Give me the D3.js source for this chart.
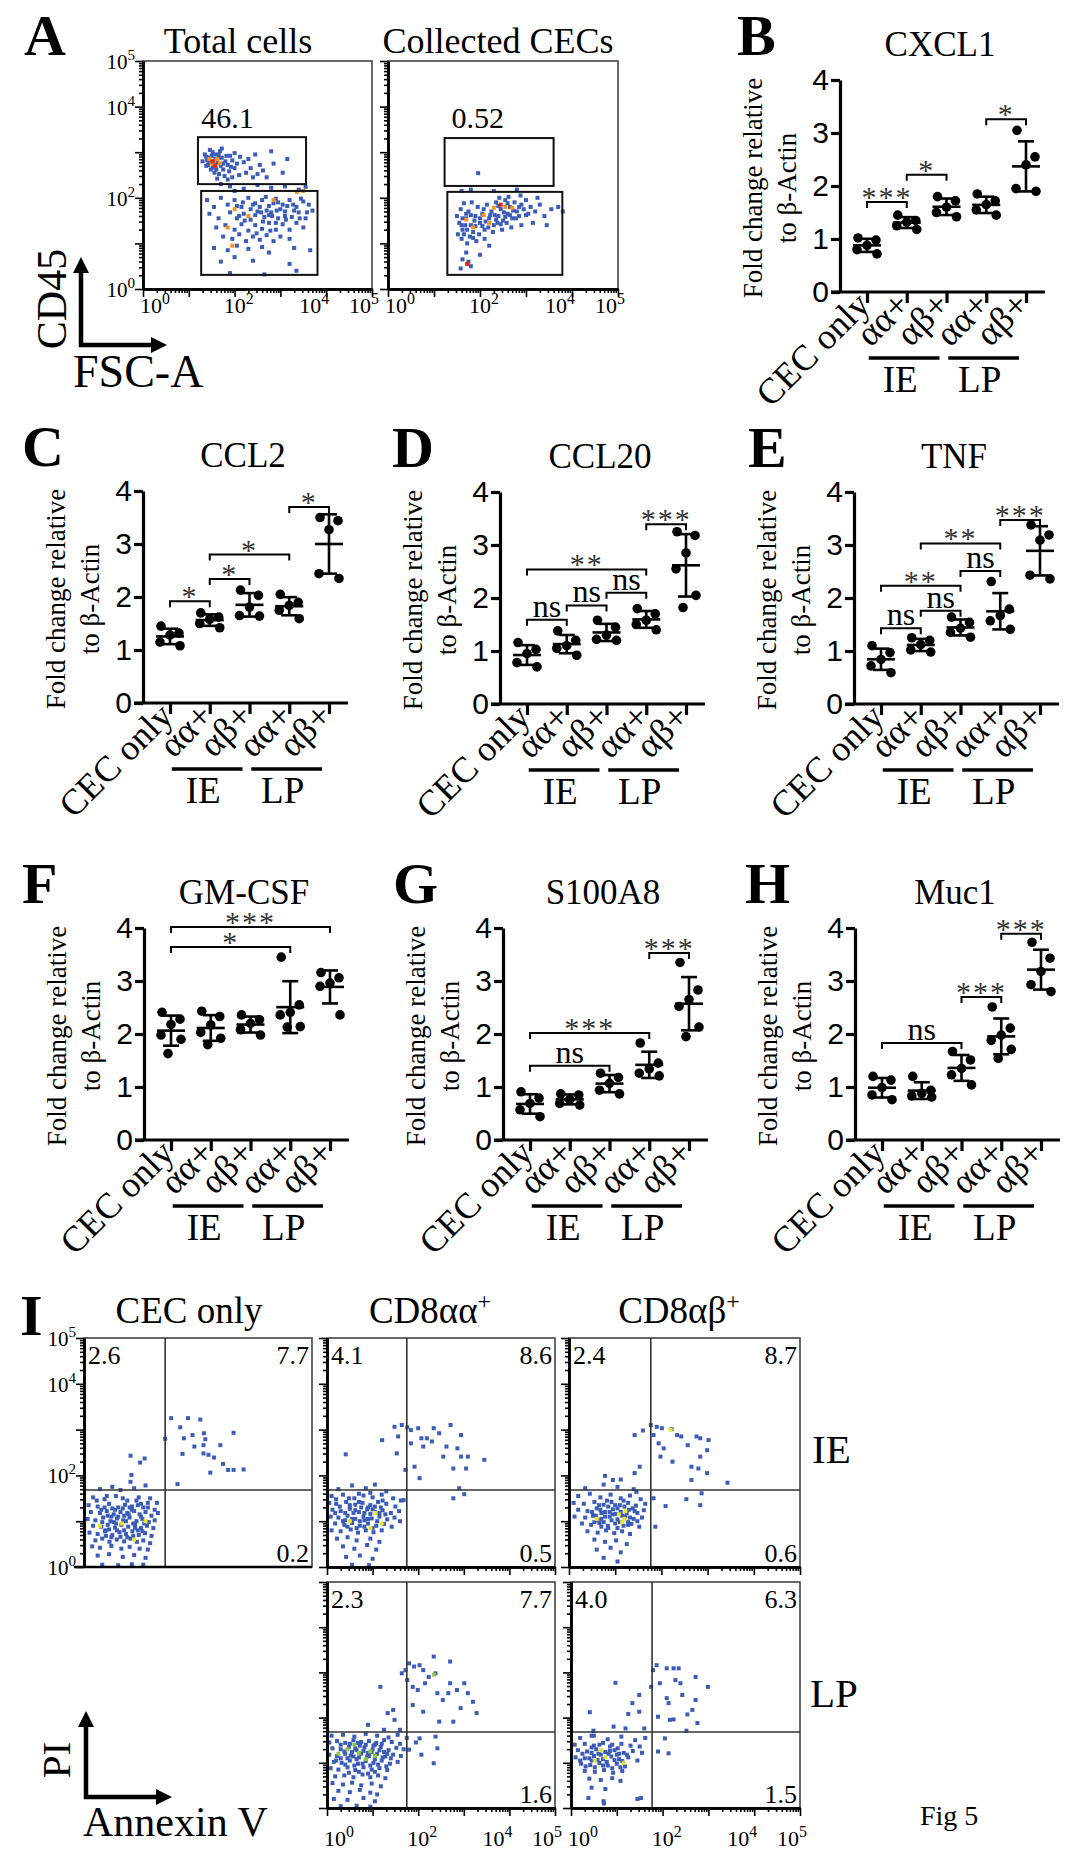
<!DOCTYPE html>
<html>
<head>
<meta charset="utf-8">
<script src="https://cdn.jsdelivr.net/npm/d3@7"></script>
<style>
  body { margin: 0; background: #fff; }
  svg { display: block; }
</style>
</head>
<body>
<svg id="fig" width="1080" height="1862"></svg>
<script>
// ---- data for the dot plots (fold change relative to beta-actin) ----
var categories = ["CEC only", "αα+", "αβ+", "αα+", "αβ+"];
var groups = [{ name: "IE", from: 1, to: 2 }, { name: "LP", from: 3, to: 4 }];
var yTicks = [0, 1, 2, 3, 4];

var cxcl1 = [[1.02, 0.98, 0.88, 0.80, 0.72], [1.45, 1.35, 1.32, 1.25, 1.18], [1.80, 1.72, 1.60, 1.50, 1.42], [1.85, 1.72, 1.65, 1.55, 1.45], [3.05, 2.55, 2.40, 1.95, 1.90]];
var ccl2 = [[1.45, 1.32, 1.28, 1.15, 1.08], [1.70, 1.62, 1.58, 1.50, 1.42], [2.13, 2.03, 1.81, 1.65, 1.64], [2.05, 1.90, 1.84, 1.75, 1.59], [3.50, 3.44, 3.27, 2.44, 2.35]];
var ccl20 = [[1.16, 1.03, 0.95, 0.78, 0.70], [1.38, 1.20, 1.10, 1.05, 0.92], [1.58, 1.45, 1.30, 1.22, 1.20], [1.80, 1.70, 1.58, 1.50, 1.40], [3.25, 3.18, 2.85, 2.55, 2.05, 1.82]];
var tnf = [[1.10, 0.97, 0.84, 0.72, 0.59], [1.25, 1.20, 1.12, 1.02, 0.98], [1.64, 1.54, 1.43, 1.35, 1.26], [2.31, 1.79, 1.67, 1.57, 1.41], [3.38, 3.19, 3.09, 2.43, 2.36]];
var gmcsf = [[2.41, 2.28, 2.18, 1.98, 1.90, 1.63], [2.43, 2.33, 2.17, 2.03, 1.92, 1.80], [2.36, 2.27, 2.20, 2.08, 1.98], [3.45, 2.55, 2.41, 2.36, 2.14, 2.13], [3.16, 3.06, 2.96, 2.90, 2.36]];
var s100a8 = [[0.91, 0.79, 0.69, 0.57, 0.44], [0.87, 0.85, 0.76, 0.69, 0.66], [1.26, 1.18, 1.07, 0.94, 0.87], [1.83, 1.45, 1.34, 1.26, 1.21], [3.35, 2.83, 2.65, 2.52, 2.13, 1.95]];
var muc1 = [[1.20, 1.13, 0.99, 0.85, 0.76], [1.20, 0.94, 0.88, 0.83, 0.81], [1.67, 1.51, 1.35, 1.23, 1.04], [2.51, 2.11, 1.98, 1.88, 1.71, 1.54], [3.73, 3.43, 3.18, 2.93, 2.80]];

// significance brackets: [from category, to category, level, label]
var sigB = [[0, 1, 1.70, "***"], [1, 2, 2.21, "*"], [3, 4, 3.26, "*"]];
var sigC = [[0, 1, 1.92, "*"], [1, 2, 2.34, "*"], [1, 3, 2.80, "*"], [3, 4, 3.70, "*"]];
var sigD = [[0, 1, 1.59, "ns"], [1, 2, 1.86, "ns"], [2, 3, 2.10, "ns"], [0, 3, 2.54, "**"], [3, 4, 3.39, "***"]];
var sigE = [[0, 1, 1.43, "ns"], [1, 2, 1.76, "ns"], [0, 2, 2.23, "**"], [2, 3, 2.51, "ns"], [1, 3, 3.03, "**"], [3, 4, 3.47, "***"]];
var sigF = [[0, 4, 4.02, "***"], [0, 3, 3.64, "*"]];
var sigG = [[3, 4, 3.53, "***"], [0, 3, 2.02, "***"], [0, 2, 1.40, "ns"]];
var sigH = [[3, 4, 3.89, "***"], [2, 3, 2.70, "***"], [0, 2, 1.83, "ns"]];

// ---- flow cytometry events, in log10 units [x, y] ----
var logLabels = [0, 2, 4, 5];

var totalCells = [[1.35,2.95],[1.42,2.88],[1.50,2.92],[1.58,2.85],[1.65,2.95],[1.72,2.88],[1.80,2.80],[1.45,2.78],[1.55,2.72],[1.62,2.78],[1.70,2.70],[1.38,2.70],[1.48,2.62],[1.60,2.62],[1.75,2.62],[1.85,2.72],[1.90,2.92],[1.95,2.82],[2.05,2.75],[2.00,2.65],[1.52,3.00],[1.68,3.02],[1.40,2.82],[1.88,2.58],[1.30,2.80],[1.56,2.55],[1.66,2.52],[1.78,2.48],[2.12,2.90],[2.20,2.78],[2.30,2.85],[2.35,2.65],[2.45,2.95],[2.55,2.72],[2.62,2.60],[2.80,3.02],[2.85,2.75],[3.15,2.85],[2.25,2.55],[2.10,2.50],[1.95,2.45],[2.40,2.45],[2.70,2.45],[3.05,2.55],[1.62,2.42],[1.85,2.40],[1.72,3.08],[1.46,3.05],[2.50,2.52],[2.00,2.98],
  [1.42,2.72],[1.58,2.95],[1.75,2.75],[1.52,2.66],[1.66,2.88],[1.82,2.92],[1.92,2.68],[1.38,2.90],
  [1.90,2.25],[2.20,2.20],[2.50,2.28],[2.80,2.22],[3.10,2.25],[3.40,2.18],[2.00,2.15],[1.70,2.30],[3.55,2.24],
  [1.40,1.95],[1.55,1.80],[1.70,2.00],[1.85,1.85],[2.00,1.95],[2.15,1.80],[2.30,2.00],[2.45,1.88],[2.60,1.95],[2.75,1.82],[2.90,1.98],[3.05,1.85],[3.20,1.95],[3.35,1.80],[3.50,1.92],[3.62,1.85],
  [1.45,1.65],[1.65,1.55],[1.90,1.68],[2.05,1.55],[2.20,1.65],[2.35,1.52],[2.50,1.70],[2.65,1.58],[2.80,1.68],[2.95,1.55],[3.10,1.70],[3.25,1.58],[3.40,1.68],[3.55,1.55],[3.70,1.72],
  [1.60,1.35],[1.80,1.40],[2.00,1.30],[2.15,1.42],[2.30,1.28],[2.45,1.40],[2.60,1.32],[2.75,1.45],[2.90,1.30],[3.05,1.42],[3.20,1.30],[3.35,1.45],[3.50,1.35],
  [1.75,1.15],[1.95,1.10],[2.10,1.20],[2.25,1.05],[2.40,1.15],[2.55,1.08],[2.70,1.18],[2.85,1.05],[3.00,1.15],[3.20,1.10],
  [1.55,0.90],[1.85,0.85],[2.05,0.95],[2.30,0.88],[2.60,0.92],[2.75,0.80],[3.30,0.90],[3.65,0.85],
  [1.70,0.60],[2.00,0.70],[2.40,0.62],[3.20,0.55],[1.90,0.35],[2.65,0.32],[3.35,0.40],
  [2.35,1.75],[2.55,1.80],[2.70,1.72],[2.85,1.88],[3.00,1.75],[3.15,1.82],[2.45,1.62],[2.62,1.48],[2.82,1.60],[3.30,1.72],[2.18,1.90],[3.45,1.98],[2.90,1.45],[2.10,1.60],
  [2.40,1.85],[2.58,1.68],[2.75,1.62],[2.92,1.72],[3.10,1.60],[3.28,1.85],[2.22,1.50],[2.48,1.22],[2.78,1.28],[3.12,1.52],[3.42,1.55],[2.05,1.82],[2.68,2.02],[2.95,1.90],[3.58,1.68]];
var totalCellsOrange = [[1.55,2.80],[1.62,2.85],[1.50,2.75],[1.68,2.76],[1.45,2.85],[3.36,2.13],[3.50,2.15],[2.00,1.75],[1.85,1.35],[2.30,1.60],[1.95,0.95],[2.85,1.95]];
var totalCellsRed = [[1.58,2.70],[1.52,2.80]];

var collectedCECs = [[1.50,1.60],[1.55,1.45],[1.62,1.30],[1.70,1.55],[1.75,1.70],[1.80,1.40],[1.85,1.25],[1.90,1.60],[1.95,1.80],[2.00,1.45],[2.05,1.65],[2.10,1.30],[2.15,1.85],[2.20,1.55],[2.25,1.70],[2.30,1.40],[2.35,1.90],[2.40,1.60],[2.45,1.75],[2.50,1.50],[2.55,1.95],[2.60,1.65],[2.65,1.80],[2.70,1.55],[2.75,1.90],[2.80,1.70],[2.85,1.60],[2.90,1.85],[2.95,1.75],[3.00,1.95],[3.05,1.65],[3.10,1.80],[3.20,1.70],[3.30,1.85],[3.40,1.60],[3.55,1.75],[3.70,1.80],[3.80,1.70],
  [1.52,1.20],[1.60,1.10],[1.68,1.40],[1.78,1.15],[1.88,1.50],[1.98,1.20],[2.08,1.75],[2.18,1.35],[2.28,1.25],[2.38,1.45],[2.48,1.30],[2.58,1.45],[2.68,1.35],[2.90,1.40],[3.15,1.45],[3.45,1.40],
  [1.58,1.75],[1.65,1.88],[1.72,1.00],[1.82,1.90],[2.42,2.00],[2.62,2.02],[2.88,2.05],[3.25,2.00],[1.70,0.80],[1.62,0.65],[1.75,0.60],[1.58,0.45],[1.80,0.50],[2.00,0.75],[2.20,0.95],[2.10,1.10],[1.92,1.05],[1.62,1.55],[2.32,1.62],[2.52,1.68],[2.72,1.72],
  [1.60,1.40],[1.72,1.30],[1.80,1.62],[1.90,1.38],[2.00,1.55],[2.12,1.48],[2.22,1.62],[2.35,1.52],[2.45,1.42],[2.55,1.58],[2.65,1.62],[2.78,1.55],[1.65,1.20],[1.85,1.12],[2.05,1.38],[1.70,1.65],[2.40,1.82],[2.60,1.88],[2.85,1.80],[3.00,1.62],
  [1.96,2.54],[1.60,2.15],[1.80,2.18],[2.30,2.15],[2.80,2.18]];
var collectedOrange = [[1.70,1.52],[1.85,1.35],[2.08,1.62],[2.30,1.78],[2.55,1.80],[2.70,1.78],[2.20,1.45]];
var collectedRed = [[1.72,0.55],[2.45,1.85]];

var cecOnlyIE = [[1.91,3.25],[2.28,3.25],[2.55,3.22],[1.78,2.80],[2.11,3.05],[2.19,2.81],[2.38,2.88],[2.63,2.92],[2.66,2.79],[3.28,2.93],[2.16,2.47],[2.42,2.63],[2.62,2.66],[2.62,2.48],[2.73,2.45],[2.85,2.39],[2.99,2.66],[3.05,2.25],[3.16,2.12],[3.28,2.12],[3.50,2.13],[2.77,2.06],[2.05,1.81],[1.02,2.43],[1.04,2.01],[1.02,1.86],[1.23,2.28],[1.33,2.37],
  [0.35,1.70],[0.62,1.75],[0.80,1.68],[1.10,1.72],[1.35,1.78],
  [0.20,1.52],[0.45,1.48],[0.70,1.55],[0.95,1.45],[1.20,1.52],[1.45,1.50],[1.60,1.40],
  [0.10,1.35],[0.30,1.32],[0.55,1.38],[0.75,1.30],[0.90,1.36],[1.05,1.32],[1.25,1.38],[1.40,1.30],[1.55,1.25],
  [0.15,1.20],[0.35,1.18],[0.50,1.22],[0.65,1.15],[0.80,1.20],[0.95,1.18],[1.10,1.22],[1.22,1.15],[1.35,1.20],[1.48,1.12],[1.62,1.18],
  [0.08,1.05],[0.25,1.02],[0.42,1.08],[0.58,1.00],[0.72,1.06],[0.86,1.02],[1.00,1.08],[1.15,1.00],[1.28,1.05],[1.42,0.98],[1.55,1.02],
  [0.20,0.90],[0.38,0.88],[0.52,0.92],[0.68,0.86],[0.82,0.92],[0.97,0.88],[1.12,0.92],[1.25,0.85],[1.38,0.90],[1.52,0.85],
  [0.12,0.75],[0.30,0.72],[0.46,0.78],[0.62,0.70],[0.78,0.76],[0.92,0.72],[1.06,0.78],[1.20,0.70],[1.34,0.74],[1.48,0.68],
  [0.25,0.58],[0.40,0.62],[0.56,0.55],[0.72,0.60],[0.88,0.56],[1.02,0.62],[1.16,0.55],[1.30,0.58],[1.45,0.52],
  [0.18,0.45],[0.35,0.42],[0.60,0.46],[0.82,0.40],[1.00,0.44],[1.22,0.40],[1.40,0.38],
  [0.30,0.25],[0.55,0.28],[0.85,0.22],[1.10,0.26],[1.35,0.20],[0.40,0.05],[0.75,0.04],[1.05,0.06],[1.30,0.05],
  [0.60,1.10],[0.88,1.12],[1.18,0.80],[0.48,0.80],[0.70,0.95],[1.05,1.25],[0.38,1.25],[1.30,1.30],[0.95,0.65],[0.62,1.28],
  [0.45,1.30],[0.68,1.25],[0.85,1.28],[1.00,1.30],[1.18,1.35],[0.52,1.12],[0.75,1.10],[0.98,1.15],[1.25,1.10],[0.40,0.98],[0.65,0.98],[0.92,1.00],[1.08,0.95],[1.32,0.95],[0.55,0.82],[0.72,0.80],[0.88,0.80],[1.12,0.85],[1.28,0.78],[0.60,0.65],[0.80,0.66],[1.08,0.68],[0.48,0.68],[1.40,1.40],[0.28,1.45],[0.85,1.50],[1.15,1.45],[0.50,1.55]];
var cecOnlyIEYellow = [[0.83,0.95],[1.10,0.60],[0.35,0.90],[1.35,1.00]];

var aaIE = [[1.48,3.06],[1.56,2.85],[1.64,3.10],[1.76,3.05],[1.84,2.99],[2.00,3.03],[2.07,2.81],[2.34,3.03],[2.46,2.92],[2.71,3.10],[2.94,2.88],[2.19,2.81],[2.30,2.74],[2.62,2.63],[2.86,2.59],[2.94,2.41],[3.09,2.41],[3.45,2.34],[2.55,2.41],[2.77,2.15],[3.05,2.15],[1.72,2.12],[2.03,1.94],[1.21,2.77],[1.53,2.48],[1.84,2.70],[0.41,2.46],[2.90,1.72],[3.01,1.59],[2.77,1.50],[2.11,2.63],[1.92,2.19],
  [0.25,1.70],[0.55,1.78],[0.85,1.72],[1.05,1.80],[1.30,1.65],
  [0.10,1.55],[0.35,1.58],[0.60,1.50],[0.80,1.56],[1.00,1.52],[1.20,1.58],[1.45,1.50],[1.62,1.45],
  [0.05,1.40],[0.20,1.38],[0.42,1.42],[0.62,1.36],[0.78,1.40],[0.95,1.35],[1.12,1.42],[1.30,1.38],[1.50,1.32],
  [0.12,1.25],[0.30,1.22],[0.50,1.27],[0.70,1.20],[0.88,1.26],[1.05,1.20],[1.22,1.24],[1.40,1.18],[1.58,1.22],
  [0.08,1.10],[0.25,1.08],[0.45,1.12],[0.62,1.05],[0.80,1.10],[0.98,1.06],[1.15,1.10],[1.32,1.04],[1.48,1.08],
  [0.18,0.95],[0.38,0.92],[0.55,0.96],[0.72,0.90],[0.90,0.95],[1.08,0.90],[1.25,0.94],[1.42,0.88],
  [0.10,0.80],[0.30,0.78],[0.52,0.82],[0.68,0.75],[0.85,0.80],[1.02,0.76],[1.20,0.80],
  [0.22,0.62],[0.45,0.65],[0.65,0.58],[0.95,0.62],[1.15,0.55],[0.35,0.45],[0.60,0.40],[0.88,0.48],[1.08,0.38],
  [0.42,0.22],[0.72,0.25],[1.00,0.18],[0.55,0.05],[0.92,0.04],
  [0.58,1.18],[0.75,1.30],[0.95,1.16],[0.40,1.02],[1.18,1.30],[0.82,1.02],[1.60,1.00],[1.68,1.46],
  [0.28,1.32],[0.50,1.35],[0.70,1.42],[0.90,1.30],[1.05,1.32],[1.22,1.45],[0.18,1.18],[0.40,1.18],[0.62,1.24],[0.82,1.18],[1.00,1.26],[1.15,1.18],[0.35,1.00],[0.55,1.05],[0.72,1.00],[0.90,1.05],[1.10,1.00],[1.28,1.15],[0.45,0.88],[0.65,0.85],[0.82,0.88],[1.00,0.85],[0.20,1.48],[0.48,1.50],[0.70,1.60],[0.95,1.62]];
var aaIEYellow = [[1.05,1.18],[0.50,1.00],[1.20,0.95],[0.95,0.85]];

var abIE = [[1.42,2.88],[1.60,2.98],[1.77,3.10],[1.90,3.06],[2.01,3.03],[1.83,2.88],[1.94,2.70],[2.05,2.59],[2.22,3.01],[2.34,2.88],[2.43,2.85],[2.57,2.66],[2.76,2.85],[2.84,2.81],[3.02,2.77],[2.99,2.55],[2.84,2.41],[2.65,2.19],[2.80,2.15],[2.99,2.05],[3.43,1.84],[2.65,1.90],[2.87,1.61],[2.54,1.48],[2.84,1.35],[2.09,1.33],[1.83,1.50],[1.98,2.41],[2.24,2.30],[1.53,2.19],[1.42,2.05],[0.78,1.99],[1.12,1.91],[1.46,1.64],[1.87,0.88],
  [0.35,1.72],[0.75,1.80],[1.05,1.75],[1.40,1.70],[0.95,1.90],
  [0.20,1.55],[0.45,1.60],[0.68,1.52],[0.90,1.58],[1.12,1.50],[1.32,1.56],[1.55,1.48],
  [0.10,1.40],[0.32,1.38],[0.55,1.42],[0.75,1.36],[0.92,1.42],[1.10,1.35],[1.28,1.40],[1.45,1.34],[1.65,1.38],
  [0.20,1.25],[0.40,1.22],[0.60,1.28],[0.78,1.20],[0.95,1.26],[1.12,1.20],[1.30,1.25],[1.48,1.18],[1.62,1.24],
  [0.12,1.10],[0.35,1.08],[0.52,1.12],[0.70,1.05],[0.88,1.10],[1.05,1.04],[1.22,1.10],[1.40,1.05],[1.58,1.08],
  [0.28,0.95],[0.48,0.92],[0.66,0.96],[0.84,0.90],[1.00,0.95],[1.18,0.90],[1.35,0.94],[1.52,0.88],
  [0.40,0.78],[0.62,0.75],[0.80,0.80],[0.98,0.74],[1.15,0.78],[1.32,0.72],
  [0.55,0.60],[0.78,0.55],[1.02,0.58],[1.25,0.50],[0.60,0.38],[0.90,0.42],[1.12,0.32],[0.75,0.20],[1.05,0.12],
  [0.70,1.18],[0.85,1.32],[1.02,1.16],[1.20,1.32],[0.62,1.02],[1.28,0.98],
  [0.65,1.35],[0.82,1.45],[1.00,1.35],[1.18,1.45],[1.38,1.28],[0.50,1.20],[0.68,1.25],[0.88,1.20],[1.05,1.28],[1.25,1.18],[1.42,1.22],[0.58,1.12],[0.78,1.10],[0.95,1.15],[1.15,1.12],[1.32,1.08],[0.55,0.98],[0.75,0.98],[0.92,1.02],[1.10,0.98],[1.28,0.92],[1.48,1.00],[0.85,0.85],[1.05,0.85],[0.70,0.88]];
var abIEYellow = [[1.08,1.15],[1.22,1.22],[0.60,1.05],[1.15,0.98],[1.20,1.05],[2.20,3.00]];

var aaLP = [[1.72,3.05],[1.80,3.20],[1.91,3.13],[2.03,3.16],[2.11,3.05],[2.34,3.35],[2.38,2.98],[2.70,3.24],[1.64,2.98],[1.76,2.83],[1.88,2.68],[1.99,2.61],[2.15,2.76],[2.23,2.90],[2.42,2.54],[2.54,2.39],[2.66,2.54],[2.70,2.76],[2.85,2.61],[3.01,2.76],[3.09,2.54],[3.20,2.35],[3.28,2.10],[2.93,2.21],[2.77,1.91],[2.46,1.91],[2.11,2.13],[1.88,2.28],[1.45,2.17],[1.33,2.10],[1.17,2.68],[1.48,1.95],[0.90,1.84],[1.25,1.73],[1.60,1.73],[2.03,1.54],[2.38,1.58],[2.42,1.32],[2.07,1.18],[2.34,0.99],[1.80,1.29],[1.95,1.45],[1.75,1.55],
  [0.10,1.60],[0.35,1.62],[0.60,1.58],[0.85,1.64],[1.10,1.60],[1.35,1.56],[1.55,1.62],
  [0.05,1.45],[0.22,1.48],[0.40,1.44],[0.58,1.50],[0.75,1.46],[0.92,1.48],[1.08,1.44],[1.25,1.50],[1.42,1.46],[1.60,1.42],
  [0.12,1.32],[0.30,1.30],[0.48,1.35],[0.65,1.28],[0.82,1.34],[1.00,1.30],[1.18,1.35],[1.35,1.28],[1.52,1.33],[1.68,1.30],
  [0.05,1.18],[0.22,1.15],[0.40,1.20],[0.58,1.14],[0.75,1.20],[0.92,1.15],[1.10,1.20],[1.28,1.14],[1.45,1.18],[1.62,1.15],
  [0.15,1.02],[0.32,1.00],[0.50,1.05],[0.68,0.98],[0.85,1.04],[1.02,1.00],[1.20,1.05],[1.38,0.98],[1.55,1.02],
  [0.08,0.88],[0.25,0.85],[0.45,0.90],[0.62,0.84],[0.80,0.90],[0.98,0.85],[1.15,0.88],[1.32,0.84],
  [0.18,0.70],[0.38,0.72],[0.58,0.68],[0.78,0.74],[0.95,0.68],[1.12,0.72],[1.28,0.66],
  [0.12,0.55],[0.35,0.52],[0.55,0.56],[0.75,0.50],[0.98,0.54],[1.18,0.48],
  [0.25,0.38],[0.50,0.35],[0.72,0.40],[0.95,0.34],[1.10,0.30],
  [0.15,0.20],[0.45,0.18],[0.80,0.22],[1.05,0.15],[0.30,0.04],[0.65,0.05],[0.95,0.03],
  [0.55,1.24],[0.72,1.38],[0.90,1.22],[1.05,1.40],[0.45,1.10],[1.25,1.24],[0.65,1.08],[1.40,1.10],
  [0.30,1.40],[0.50,1.42],[0.68,1.44],[0.85,1.40],[1.02,1.38],[1.20,1.42],[0.38,1.25],[0.62,1.32],[0.80,1.26],[0.98,1.24],[1.15,1.28],[1.32,1.20],[0.30,1.10],[0.52,1.16],[0.70,1.12],[0.88,1.14],[1.05,1.08],[1.22,1.12],[0.40,0.96],[0.60,0.94],[0.78,0.98],[0.95,0.94],[1.12,0.96],[1.30,0.92],[0.20,1.05],[0.48,0.78],[0.70,0.80],[0.90,0.76],[1.05,0.80]];
var aaLPGreen = [[0.45,1.30],[0.70,1.22],[0.95,1.25],[1.05,1.15],[0.25,1.20],[0.85,1.08],[0.60,1.40],[2.35,2.95]];

var abLP = [[1.87,3.16],[1.79,3.05],[2.09,3.09],[2.24,3.09],[2.35,3.09],[2.28,2.83],[2.39,2.76],[2.72,2.90],[2.99,2.68],[1.94,2.76],[1.75,2.68],[2.09,2.43],[2.13,2.32],[2.43,2.50],[2.72,2.39],[2.65,2.17],[2.54,2.07],[2.76,1.88],[2.16,1.95],[2.24,1.96],[1.90,2.02],[2.52,1.71],[2.13,1.21],[2.05,1.54],[1.90,1.25],[0.97,2.77],[1.49,2.50],[1.34,2.32],[1.49,2.13],[1.25,2.08],[0.41,2.12],[1.60,1.76],[1.19,1.76],[0.93,1.80],[0.49,1.71],[0.45,1.60],[1.53,0.22],[0.71,0.15],
  [0.20,1.55],[0.50,1.60],[0.80,1.52],[1.10,1.58],[1.40,1.50],[1.62,1.55],
  [0.08,1.40],[0.30,1.42],[0.50,1.38],[0.70,1.44],[0.90,1.40],[1.10,1.42],[1.30,1.38],[1.50,1.36],
  [0.15,1.28],[0.35,1.25],[0.55,1.30],[0.75,1.24],[0.95,1.28],[1.15,1.22],[1.35,1.26],[1.55,1.22],
  [0.10,1.12],[0.30,1.10],[0.50,1.15],[0.70,1.08],[0.88,1.14],[1.05,1.08],[1.25,1.12],[1.45,1.05],
  [0.22,0.98],[0.42,0.95],[0.62,1.00],[0.80,0.94],[1.00,0.98],[1.18,0.92],
  [0.30,0.82],[0.52,0.80],[0.72,0.84],[0.92,0.78],[1.12,0.82],
  [0.40,0.65],[0.65,0.62],[0.90,0.66],[1.08,0.60],[0.45,0.45],[0.75,0.42],[0.38,0.22],[0.72,0.10],[1.45,0.20],
  [0.60,1.20],[0.82,1.20],[0.45,1.05],[1.00,1.18],
  [0.25,1.20],[0.45,1.22],[0.65,1.18],[0.85,1.26],[1.05,1.20],[1.22,1.18],[0.20,1.05],[0.40,1.10],[0.58,1.06],[0.78,1.02],[0.95,1.06],[1.12,1.04],[0.32,0.92],[0.52,0.90],[0.70,0.94],[0.90,0.88],[1.08,0.90],[0.45,1.34],[0.62,1.40],[0.85,1.36],[1.02,1.32]];
var abLPYellow = [[0.65,1.28],[0.75,1.12],[1.15,1.00],[0.52,1.05]];

// quadrant percentages for panel I: upper left, upper right, lower right
var quadUL = ["2.6", "4.1", "2.4", "2.3", "4.0"];
var quadUR = ["7.7", "8.6", "8.7", "7.7", "6.3"];
var quadLR = ["0.2", "0.5", "0.6", "1.6", "1.5"];

// ---- drawing ----
var SERIF = "'Liberation Serif','Times New Roman',serif";
var SANS = "'Liberation Sans',Arial,sans-serif";
var BLUE = "#3b5cb8";
var svg = d3.select("#fig");

var jitter = [-9, 9, 0, -10, 10, -3];

function drawDotPanel(p) {
  var g = svg.append("g");
  var y = d3.scaleLinear().domain([0, 4]).range([p.y0, p.y0 - 212]);
  var x = d3.scalePoint().domain(d3.range(categories.length)).range([p.ax + 27, p.ax + 186]);

  g.append("text").attr("x", p.lx).attr("y", p.y0 - 237)
    .attr("font-family", SERIF).attr("font-weight", "bold").attr("font-size", 58).text(p.letter);
  g.append("text").attr("x", p.ax + 100).attr("y", p.y0 - 236).attr("text-anchor", "middle")
    .attr("font-family", SERIF).attr("font-size", 35).text(p.title);

  // y label, two lines
  g.append("text").attr("transform", "translate(" + (p.ax - 78) + "," + (p.y0 - 104) + ") rotate(-90)")
    .attr("text-anchor", "middle").attr("font-family", SERIF).attr("font-size", 27).text("Fold change relative");
  g.append("text").attr("transform", "translate(" + (p.ax - 44) + "," + (p.y0 - 104) + ") rotate(-90)")
    .attr("text-anchor", "middle").attr("font-family", SERIF).attr("font-size", 27).text("to β-Actin");

  // axes
  var ya = g.append("g").attr("transform", "translate(" + p.ax + ",0)")
    .call(d3.axisLeft(y).tickValues(yTicks).tickFormat(d3.format("d")).tickSize(9).tickSizeOuter(0).tickPadding(2));
  ya.attr("font-family", SANS).attr("font-size", 30);
  ya.selectAll(".domain, .tick line").attr("stroke", "#000").attr("stroke-width", 3.2);
  ya.selectAll(".tick text").attr("fill", "#000");

  g.append("line").attr("x1", p.ax - 9).attr("x2", p.ax + 205).attr("y1", p.y0).attr("y2", p.y0)
    .attr("stroke", "#000").attr("stroke-width", 3.2);
  var xa = g.append("g").attr("transform", "translate(0," + p.y0 + ")")
    .call(d3.axisBottom(x).tickSize(11).tickFormat(""));
  xa.select(".domain").remove();
  xa.selectAll(".tick line").attr("stroke", "#000").attr("stroke-width", 3.2);

  categories.forEach(function (c, i) {
    g.append("text").attr("transform", "translate(" + (x(i) + 5) + "," + (p.y0 + 15) + ") rotate(-45)")
      .attr("text-anchor", "end").attr("font-family", SERIF).attr("font-size", 36).text(c);
  });
  groups.forEach(function (gr) {
    var x1 = x(gr.from) - 38, x2 = x(gr.to) - 7;
    g.append("line").attr("x1", x1).attr("x2", x2).attr("y1", p.y0 + 66).attr("y2", p.y0 + 66)
      .attr("stroke", "#000").attr("stroke-width", 3.5);
    g.append("text").attr("x", (x1 + x2) / 2 - 4).attr("y", p.y0 + 100).attr("text-anchor", "middle")
      .attr("font-family", SERIF).attr("font-size", 37).text(gr.name);
  });

  // points, mean and SD
  p.data.forEach(function (vals, i) {
    var m = d3.mean(vals), sd = d3.deviation(vals), cx = x(i);
    g.append("g").selectAll("circle").data(vals).join("circle")
      .attr("cx", function (d, k) { return cx + jitter[k]; })
      .attr("cy", function (d) { return y(d); })
      .attr("r", 4.8).attr("fill", "#000");
    var s = g.append("g").attr("stroke", "#000").attr("stroke-width", 2.6).attr("fill", "none");
    s.append("line").attr("x1", cx - 14).attr("x2", cx + 14).attr("y1", y(m)).attr("y2", y(m));
    s.append("line").attr("x1", cx).attr("x2", cx).attr("y1", y(m - sd)).attr("y2", y(m + sd));
    s.append("line").attr("x1", cx - 8).attr("x2", cx + 8).attr("y1", y(m - sd)).attr("y2", y(m - sd));
    s.append("line").attr("x1", cx - 8).attr("x2", cx + 8).attr("y1", y(m + sd)).attr("y2", y(m + sd));
  });

  // significance brackets
  p.sig.forEach(function (s) {
    var x1 = x(s[0]), x2 = x(s[1]), yy = y(s[2]);
    g.append("path").attr("d", "M" + x1 + "," + (yy + 6) + "V" + yy + "H" + x2 + "V" + (yy + 6))
      .attr("fill", "none").attr("stroke", "#000").attr("stroke-width", 2);
    var isNs = s[3] === "ns";
    g.append("text").attr("x", (x1 + x2) / 2).attr("y", isNs ? yy - 3 : yy + 5)
      .attr("text-anchor", "middle").attr("font-family", SERIF)
      .attr("font-size", isNs ? 32 : 30).attr("letter-spacing", isNs ? 0 : 2)
      .attr("fill", isNs ? "#000" : "#333").text(s[3]);
  });
}

var minorTicks = [];
d3.range(0, 5).forEach(function (d) { d3.range(2, 10).forEach(function (m) { minorTicks.push(d + Math.log10(m)); }); });
var majorTicks = [0, 1, 2, 3, 4, 5];
// anchor and nudge of the 10^0, 10^2, 10^4, 10^5 labels under a plot
var xLabAnchor = ["start", "middle", "end", "end"];
var xLabNudge = [-3, 4, 3, 7];

function powLabel(g, x, y, exp, anchor, size) {
  size = size || 21;
  var t = g.append("text").attr("x", x).attr("y", y).attr("text-anchor", anchor)
    .attr("font-family", SERIF).attr("font-size", size);
  t.append("tspan").text("10");
  t.append("tspan").attr("dy", -size * 0.43).attr("font-size", size * 0.72).text(exp);
}

function drawFlow(f) {
  var g = svg.append("g");
  var x = d3.scaleLinear().domain([0, 5]).range([f.x, f.x + f.w]);
  var y = d3.scaleLinear().domain([0, 5]).range([f.y + f.h, f.y]);

  g.append("rect").attr("x", f.x).attr("y", f.y).attr("width", f.w).attr("height", f.h)
    .attr("fill", "none").attr("stroke", "#444").attr("stroke-width", 1.6);

  function dots(list, color) {
    g.append("g").selectAll("rect").data(list).join("rect")
      .attr("x", function (d) { return x(d[0]) - 2; })
      .attr("y", function (d) { return y(d[1]) - 2; })
      .attr("width", 4).attr("height", 4).attr("fill", color);
  }
  dots(f.pts, BLUE);
  (f.hot || []).forEach(function (h) { dots(h[0], h[1]); });

  (f.gates || []).forEach(function (r) {
    g.append("rect").attr("x", x(r[0])).attr("y", y(r[1]))
      .attr("width", x(r[2]) - x(r[0])).attr("height", y(r[3]) - y(r[1]))
      .attr("fill", "none").attr("stroke", "#111").attr("stroke-width", 2);
  });
  (f.gateLabels || []).forEach(function (t) {
    g.append("text").attr("x", x(t[0])).attr("y", y(t[1])).attr("font-family", SERIF)
      .attr("font-size", 30).text(t[2]);
  });

  if (f.quad) {
    var qx = x(f.quad[0]), qy = y(f.quad[1]);
    g.append("line").attr("x1", qx).attr("x2", qx).attr("y1", f.y).attr("y2", f.y + f.h)
      .attr("stroke", "#333").attr("stroke-width", 1.6);
    g.append("line").attr("x1", f.x).attr("x2", f.x + f.w).attr("y1", qy).attr("y2", qy)
      .attr("stroke", "#333").attr("stroke-width", 1.6);
    g.append("text").attr("x", f.x + 4).attr("y", f.y + 26).attr("font-family", SERIF).attr("font-size", 26).text(f.nums[0]);
    g.append("text").attr("x", f.x + f.w - 3).attr("y", f.y + 26).attr("text-anchor", "end").attr("font-family", SERIF).attr("font-size", 26).text(f.nums[1]);
    g.append("text").attr("x", f.x + f.w - 3).attr("y", f.y + f.h - 5).attr("text-anchor", "end").attr("font-family", SERIF).attr("font-size", 26).text(f.nums[2]);
  }

  // y axis with log ticks
  var ya = g.append("g").attr("transform", "translate(" + f.x + ",0)");
  ya.append("g").call(d3.axisLeft(y).tickValues(minorTicks).tickSize(4).tickSizeOuter(0).tickFormat(""));
  ya.append("g").call(d3.axisLeft(y).tickValues(majorTicks).tickSize(8).tickSizeOuter(0).tickFormat(""));
  ya.selectAll(".domain").attr("stroke", "#000").attr("stroke-width", 2.6);
  ya.selectAll(".tick line").attr("stroke", "#000").attr("stroke-width", 1.6);
  if (f.yLab) {
    logLabels.forEach(function (v) { powLabel(g, f.x - 8, y(v) + 8, String(v), "end"); });
  }
  if (f.xTicks) {
    var xa = g.append("g").attr("transform", "translate(0," + (f.y + f.h) + ")");
    xa.append("g").call(d3.axisBottom(x).tickValues(minorTicks).tickSize(4).tickSizeOuter(0).tickFormat(""));
    xa.append("g").call(d3.axisBottom(x).tickValues(majorTicks).tickSize(8).tickSizeOuter(0).tickFormat(""));
    xa.selectAll(".domain").attr("stroke", "#000").attr("stroke-width", 2.6);
    xa.selectAll(".tick line").attr("stroke", "#000").attr("stroke-width", 1.6);
  } else {
    g.append("line").attr("x1", f.x - 10).attr("x2", f.x + f.w).attr("y1", f.y + f.h).attr("y2", f.y + f.h)
      .attr("stroke", "#000").attr("stroke-width", 2.6);
  }
  if (f.xLab) {
    logLabels.forEach(function (v, i) {
      powLabel(g, x(v) + xLabNudge[i], f.y + f.h + f.xLab, String(v), xLabAnchor[i], 22);
    });
  }
}

function arrowCorner(cx, cy, up, right) {
  var g = svg.append("g").attr("stroke", "#000").attr("stroke-width", 4.5).attr("fill", "none");
  g.append("path").attr("d", "M" + cx + "," + (cy - up + 10) + "V" + cy + "H" + (cx + right - 10));
  svg.append("path").attr("d", "M" + cx + "," + (cy - up) + "l-8,16h16z").attr("fill", "#000");
  svg.append("path").attr("d", "M" + (cx + right) + "," + cy + "l-16,-8v16z").attr("fill", "#000");
}

function label(x, y, s, size, opt) {
  var t = svg.append("text").attr("x", x).attr("y", y).attr("font-family", SERIF).attr("font-size", size).text(s);
  if (opt && opt.bold) t.attr("font-weight", "bold");
  if (opt && opt.anchor) t.attr("text-anchor", opt.anchor);
  return t;
}

// Panel A
label(24, 55, "A", 58, { bold: true });
label(238, 53, "Total cells", 36, { anchor: "middle" });
label(498, 53, "Collected CECs", 36, { anchor: "middle" });
drawFlow({ x: 143, y: 61, w: 229, h: 228, pts: totalCells, hot: [[totalCellsOrange, "#f7941d"], [totalCellsRed, "#e2231a"]],
  gates: [[1.20, 3.33, 3.56, 2.30], [1.27, 2.15, 3.81, 0.31]], gateLabels: [[1.27, 3.53, "46.1"]],
  yLab: true, xTicks: true, xLab: 24 });
drawFlow({ x: 388, y: 61, w: 230, h: 228, pts: collectedCECs, hot: [[collectedOrange, "#f7941d"], [collectedRed, "#e2231a"]],
  gates: [[1.23, 3.31, 3.60, 2.26], [1.29, 2.13, 3.79, 0.31]], gateLabels: [[1.38, 3.53, "0.52"]],
  xTicks: true, xLab: 24 });
arrowCorner(81, 345, 88, 86);
svg.append("text").attr("transform", "translate(66,299) rotate(-90)").attr("text-anchor", "middle")
  .attr("font-family", SERIF).attr("font-size", 42).text("CD45");
label(73, 387, "FSC-A", 46);

// Panels B-H
drawDotPanel({ letter: "B", lx: 737, ax: 840, y0: 292, title: "CXCL1", data: cxcl1, sig: sigB });
drawDotPanel({ letter: "C", lx: 22, ax: 143, y0: 703, title: "CCL2", data: ccl2, sig: sigC });
drawDotPanel({ letter: "D", lx: 392, ax: 500, y0: 704, title: "CCL20", data: ccl20, sig: sigD });
drawDotPanel({ letter: "E", lx: 748, ax: 854, y0: 704, title: "TNF", data: tnf, sig: sigE });
drawDotPanel({ letter: "F", lx: 22, ax: 144, y0: 1140, title: "GM-CSF", data: gmcsf, sig: sigF });
drawDotPanel({ letter: "G", lx: 393, ax: 503, y0: 1140, title: "S100A8", data: s100a8, sig: sigG });
drawDotPanel({ letter: "H", lx: 745, ax: 855, y0: 1140, title: "Muc1", data: muc1, sig: sigH });

// Panel I
label(20, 1335, "I", 58, { bold: true });
label(189, 1323, "CEC only", 37, { anchor: "middle" });
var t1 = label(430, 1323, "CD8αα", 37, { anchor: "middle" });
t1.append("tspan").attr("dy", -14).attr("font-size", 24).text("+");
var t2 = label(679, 1323, "CD8αβ", 37, { anchor: "middle" });
t2.append("tspan").attr("dy", -14).attr("font-size", 24).text("+");

drawFlow({ x: 84, y: 1338, w: 228, h: 229, pts: cecOnlyIE, hot: [[cecOnlyIEYellow, "#e6e632"]], quad: [1.78, 1.68],
  nums: [quadUL[0], quadUR[0], quadLR[0]], yLab: true });
drawFlow({ x: 327, y: 1338, w: 228, h: 229, pts: aaIE, hot: [[aaIEYellow, "#e6e632"]], quad: [1.75, 1.68],
  nums: [quadUL[1], quadUR[1], quadLR[1]], xTicks: true });
drawFlow({ x: 569, y: 1338, w: 231, h: 229, pts: abIE, hot: [[abIEYellow, "#e6e632"]], quad: [1.77, 1.68],
  nums: [quadUL[2], quadUR[2], quadLR[2]], xTicks: true });
drawFlow({ x: 327, y: 1582, w: 228, h: 226, pts: aaLP, hot: [[aaLPGreen, "#8dc63f"]], quad: [1.75, 1.68],
  nums: [quadUL[3], quadUR[3], quadLR[3]], xTicks: true, xLab: 38 });
drawFlow({ x: 571, y: 1582, w: 229, h: 226, pts: abLP, hot: [[abLPYellow, "#d8e43a"]], quad: [1.77, 1.68],
  nums: [quadUL[4], quadUR[4], quadLR[4]], xTicks: true, xLab: 38 });

label(812, 1463, "IE", 41);
label(810, 1707, "LP", 41);
arrowCorner(86, 1797, 86, 86);
svg.append("text").attr("transform", "translate(70,1760) rotate(-90)").attr("text-anchor", "middle")
  .attr("font-family", SERIF).attr("font-size", 41).text("PI");
label(83, 1836, "Annexin V", 42);
label(920, 1825, "Fig 5", 28);
</script>
</body>
</html>
